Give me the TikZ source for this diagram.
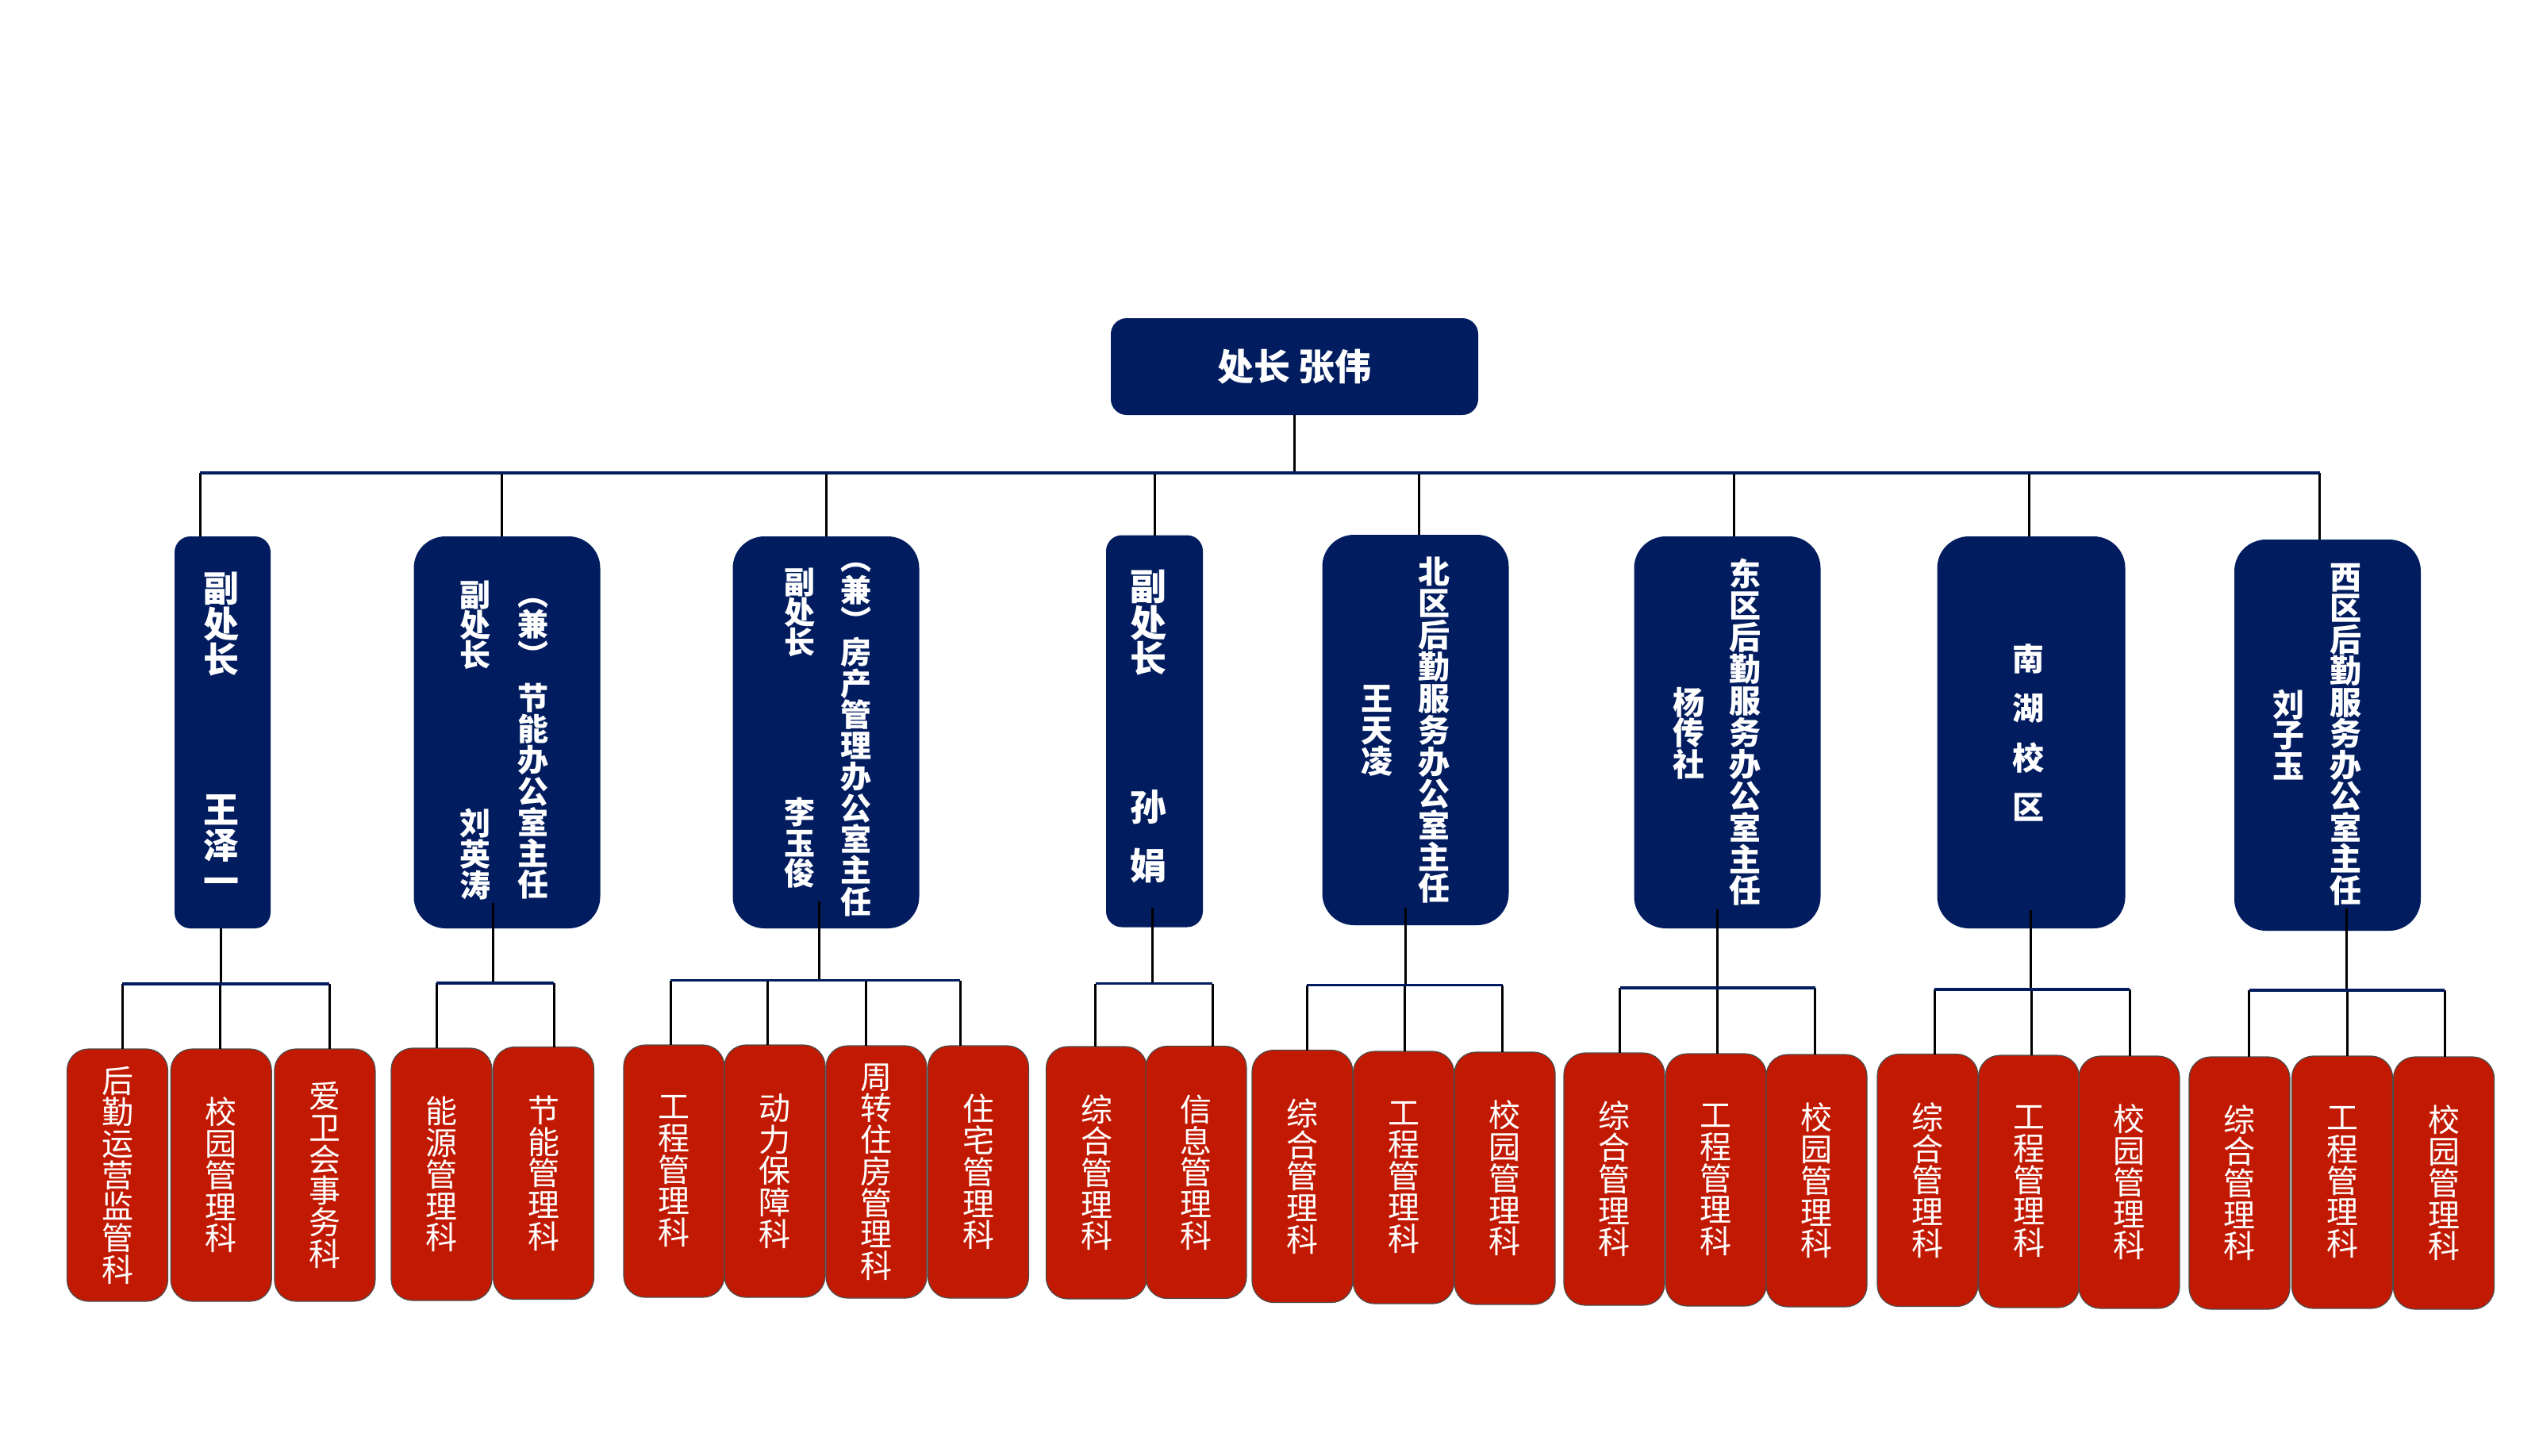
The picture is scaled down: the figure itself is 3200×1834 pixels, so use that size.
\documentclass[tikz,border=0pt]{standalone}
\usepackage{fontspec}
\newfontfamily\cjk{Noto Sans CJK SC}
\definecolor{navy}{HTML}{021D5F}
\definecolor{bred}{HTML}{C21A02}
\newcommand\myfs[2]{\fontsize{#1pt}{#2pt}\selectfont}
\tikzset{
  topbox/.style={fill=navy, rounded corners=20pt, minimum width=463pt, minimum height=122pt, inner sep=0pt, outer sep=0pt, text=white, font=\cjk\bfseries\myfs{46}{46}},
  l2box/.style={fill=navy, inner sep=0pt, outer sep=0pt, minimum height=494pt},
  l2narrow/.style={l2box, minimum width=121pt, rounded corners=20pt},
  l2wide/.style={l2box, minimum width=235pt, rounded corners=40pt},
  l2t/.style={text=white, align=center, inner sep=0pt},
  l3box/.style={fill=bred, draw=black!70, line width=1.2pt, rounded corners=27pt, minimum width=127pt, minimum height=318pt, inner sep=0pt, outer sep=0pt, text=white, align=center, font=\cjk\myfs{40}{39.7}},
  vline/.style={draw=black, line width=3pt},
  hbar/.style={draw=navy, line width=3.5pt}
}
\begin{document}
\begin{tikzpicture}[x=1pt,y=-1pt]
\fill[white] (0,0) rectangle (3200,1834);
\useasboundingbox (0,0) rectangle (3200,1834);

% top
\node[topbox] (top) at (1631.5,462) {处长 张伟};

% level 2 boxes
\node[l2narrow] (b1) at (280.5,923) {};
\node[l2wide] (b2) at (639,923) {};
\node[l2wide] (b3) at (1041,923) {};
\node[l2narrow, minimum width=122pt] (b4) at (1455,921.5) {};
\node[l2wide, minimum height=492pt] (b5) at (1784,920) {};
\node[l2wide] (b6) at (2177,923) {};
\node[l2wide, minimum width=237pt] (b7) at (2560,923) {};
\node[l2wide, minimum height=493pt] (b8) at (2933.5,926.5) {};

% level 2 texts
\node[l2t, font=\cjk\bfseries\myfs{45}{45}] (b1a) at (279,787) {副\\处\\长};
\node[l2t, font=\cjk\bfseries\myfs{45}{45}] (b1b) at (279,1066) {王\\泽\\一\vphantom{王}};

\node[l2t, font=\cjk\bfseries\myfs{39}{38}] (b2a) at (599,788) {副\\处\\长};
\node[l2t, font=\cjk\bfseries\myfs{39}{39}] (b2b) at (599,1076) {刘\\英\\涛};
\node[l2t, font=\cjk\bfseries\myfs{39}{36}] (b2c) at (672,787) {\vphantom{兼}︵\\兼\\︶\vphantom{兼}};
\node[l2t, font=\cjk\bfseries\myfs{39}{39.25}] (b2d) at (672,997.3) {节\\能\\办\\公\\室\\主\\任};

\node[l2t, font=\cjk\bfseries\myfs{39}{38}] (b3a) at (1008,772) {副\\处\\长};
\node[l2t, font=\cjk\bfseries\myfs{39}{38.5}] (b3b) at (1008,1062.5) {李\\玉\\俊};
\node[l2t, font=\cjk\bfseries\myfs{39}{39.3}] (b3c) at (1079,920) {\vphantom{兼}︵\\兼\\︶\\房\\产\\管\\理\\办\\公\\室\\主\\任};

\node[l2t, font=\cjk\bfseries\myfs{46}{45.5}] (b4a) at (1447,785) {副\\处\\长};
\node[l2t, font=\cjk\bfseries\myfs{46}{74.5}] (b4b) at (1447,1054) {孙\\娟};

\node[l2t, font=\cjk\bfseries\myfs{40}{39.9}] (b5a) at (1807,920.5) {北\\区\\后\\勤\\服\\务\\办\\公\\室\\主\\任};
\node[l2t, font=\cjk\bfseries\myfs{40}{39.3}] (b5b) at (1735.6,921) {王\\天\\凌};

\node[l2t, font=\cjk\bfseries\myfs{40}{39.9}] (b6a) at (2199,923) {东\\区\\后\\勤\\服\\务\\办\\公\\室\\主\\任};
\node[l2t, font=\cjk\bfseries\myfs{40}{38.2}] (b6b) at (2128,924) {杨\\传\\社};

\node[l2t, font=\cjk\bfseries\myfs{40}{62.3}] (b7a) at (2556,923.5) {南\\湖\\校\\区};

\node[l2t, font=\cjk\bfseries\myfs{40}{39.5}] (b8a) at (2956,925.5) {西\\区\\后\\勤\\服\\务\\办\\公\\室\\主\\任};
\node[l2t, font=\cjk\bfseries\myfs{40}{38.4}] (b8b) at (2884.5,926) {刘\\子\\玉};

% level 3 boxes
\node[l3box] (c11) at (148,1481) {后\\勤\\运\\营\\监\\管\\科};
\node[l3box] (c12) at (278.7,1481) {校\\园\\管\\理\\科};
\node[l3box] (c13) at (409.4,1481) {爱\\卫\\会\\事\\务\\科};
\node[l3box] (c21) at (556.5,1480) {能\\源\\管\\理\\科};
\node[l3box] (c22) at (685,1478.5) {节\\能\\管\\理\\科};
\node[l3box] (c31) at (849.5,1476) {工\\程\\管\\理\\科};
\node[l3box] (c32) at (976.5,1476) {动\\力\\保\\障\\科};
\node[l3box] (c33) at (1104.5,1477) {周\\转\\住\\房\\管\\理\\科};
\node[l3box] (c34) at (1233,1477) {住\\宅\\管\\理\\科};
\node[l3box] (c41) at (1382,1478) {综\\合\\管\\理\\科};
\node[l3box] (c42) at (1507.5,1477.5) {信\\息\\管\\理\\科};
\node[l3box] (c51) at (1641.5,1482.5) {综\\合\\管\\理\\科};
\node[l3box] (c52) at (1769,1484) {工\\程\\管\\理\\科};
\node[l3box] (c53) at (1896.5,1485) {校\\园\\管\\理\\科};
\node[l3box] (c61) at (2034.5,1486) {综\\合\\管\\理\\科};
\node[l3box] (c62) at (2162.8,1487) {工\\程\\管\\理\\科};
\node[l3box] (c63) at (2289.5,1488) {校\\园\\管\\理\\科};
\node[l3box] (c71) at (2429.5,1487.5) {综\\合\\管\\理\\科};
\node[l3box] (c72) at (2557,1489) {工\\程\\管\\理\\科};
\node[l3box] (c73) at (2683.5,1490) {校\\园\\管\\理\\科};
\node[l3box] (c81) at (2822.5,1491) {综\\合\\管\\理\\科};
\node[l3box] (c82) at (2952,1490) {工\\程\\管\\理\\科};
\node[l3box] (c83) at (3080,1491) {校\\园\\管\\理\\科};

% main bar and drops
\foreach \n/\x in {1/252,2/632,3/1041,4/1455,5/1788.5,6/2185,7/2557,8/2923.5}
  \coordinate (j\n) at (\x,596);
\draw[vline] (top.south) -- (top.south |- j1);
\foreach \n in {1,...,8}
  \draw[vline] (j\n) -- (j\n |- b\n.north);
\draw[hbar] (j1) -- (j8);

% level 3 connectors
\foreach \n/\x/\y in {11/154/1240,12/277.5/1240,13/415/1240,
  21/550/1239,22/698/1239,
  31/845/1235.6,32/967/1235.6,33/1091/1235.6,34/1210/1235.6,
  41/1380.5/1239.5,42/1528/1239.5,
  51/1647/1241.5,52/1770.5/1241.5,53/1893.5/1241.5,
  61/2041.5/1245,62/2164.6/1245,63/2287.7/1245,
  71/2438/1247,72/2560/1247,73/2684/1247,
  81/2834.6/1248,82/2958/1248,83/3081/1248}
  \coordinate (d\n) at (\x,\y);
\foreach \n/\x/\y in {1/278/1170,2/621/1138,3/1032.5/1136,4/1452/1143.6,
  5/1771/1143.6,6/2164.6/1146,7/2559.5/1147,8/2957/1145}
  \coordinate (p\n) at (\x,\y);
\foreach \n in {11,12,13,21,22,31,32,33,34,41,42,51,52,53,61,62,63,71,72,73,81,82,83}
  \draw[vline] (d\n) -- (d\n |- c\n.north);
\foreach \g/\a in {1/11,2/21,3/31,4/41,5/51,6/61,7/71,8/81}
  \draw[vline] (p\g) -- (p\g |- d\a);
\foreach \a/\b in {11/13,21/22,31/34,41/42,51/53,61/63,71/73,81/83}
  \draw[hbar] (d\a) -- (d\b);
\end{tikzpicture}
\end{document}
